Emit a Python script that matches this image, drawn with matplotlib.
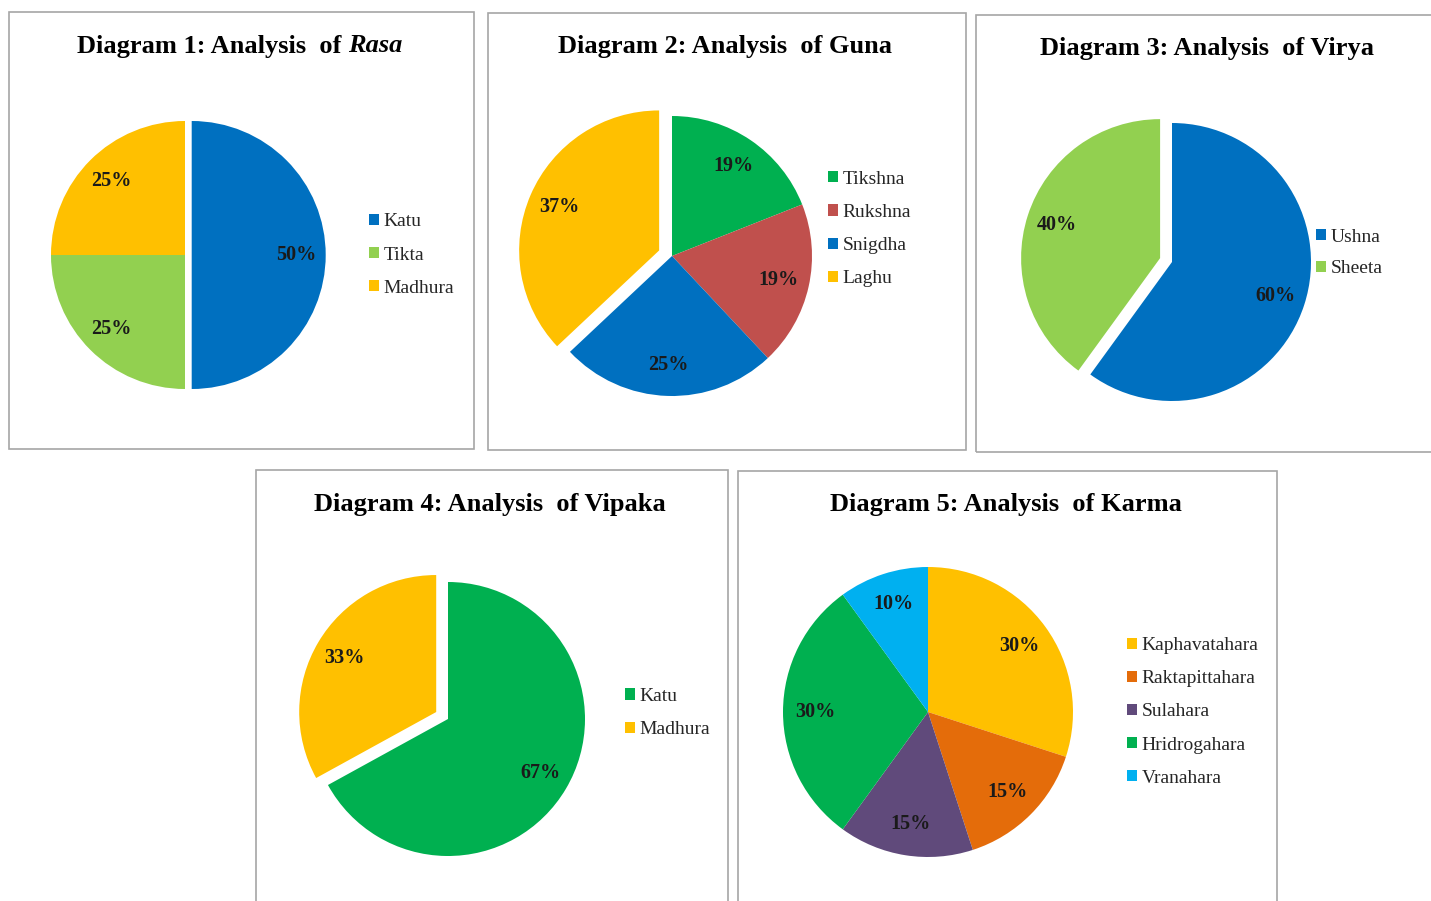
import matplotlib
matplotlib.use("Agg")
import matplotlib.pyplot as plt
from matplotlib.patches import Rectangle

plt.rcParams['font.family'] = ['Liberation Serif', 'DejaVu Serif']

# data
rasa_labels = ["Katu", "Tikta", "Madhura"]
rasa_values = [50, 25, 25]
guna_labels = ["Tikshna", "Rukshna", "Snigdha", "Laghu"]
guna_values = [19, 19, 25, 37]
virya_labels = ["Ushna", "Sheeta"]
virya_values = [60, 40]
vipaka_labels = ["Katu", "Madhura"]
vipaka_values = [67, 33]
karma_labels = ["Kaphavatahara", "Raktapittahara", "Sulahara", "Hridrogahara", "Vranahara"]
karma_values = [30, 15, 15, 30, 10]

BLUE = "#0070C0"
LGREEN = "#92D050"
GREEN = "#00B050"
YELLOW = "#FFC000"
RED = "#C0504D"
ORANGE = "#E46C0A"
PURPLE = "#604A7B"
CYAN = "#00B0F0"

W, H = 1431, 901
fig = plt.figure(figsize=(W / 100, H / 100), dpi=100)
fig.patch.set_facecolor("white")


def frame(x0, y0, x1, y1):
    fig.patches.append(Rectangle((x0 / W, 1 - y1 / H), (x1 - x0) / W, (y1 - y0) / H,
                                 transform=fig.transFigure, fill=False,
                                 edgecolor="#a6a6a6", linewidth=1.2))


def title(cx, cy, text, italic_part=None):
    if italic_part is None:
        fig.text(cx / W, 1 - cy / H, text, ha="center", va="center",
                 fontsize=19, fontweight="bold", color="black")
        return
    r = fig.canvas.get_renderer()
    t1 = fig.text(0, 0, text, fontsize=19, fontweight="bold")
    t2 = fig.text(0, 0, italic_part, fontsize=19, fontweight="bold", style="italic")
    w1 = t1.get_window_extent(r).width
    w2 = t2.get_window_extent(r).width
    x0 = cx - (w1 + w2) / 2
    t1.set_position((x0 / W, 1 - cy / H))
    t1.set_va("center")
    t2.set_position(((x0 + w1) / W, 1 - cy / H))
    t2.set_va("center")


def pie(cx, cy, r, values, labels, colors, explode, leg_x, leg_y, spacing=0.83):
    pad = 1.35
    size = 2 * r * pad
    ax = fig.add_axes([(cx - size / 2) / W, 1 - (cy + size / 2) / H, size / W, size / H])
    wedges, _, autotexts = ax.pie(values, colors=colors, startangle=90, counterclock=False,
                                  explode=explode, autopct=lambda p: f"{p:.0f}%",
                                  pctdistance=0.78,
                                  textprops=dict(fontsize=14.5, fontweight="bold", color="#1a1a1a"),
                                  wedgeprops=dict(linewidth=0))
    ax.set_xlim(-pad, pad)
    ax.set_ylim(-pad, pad)
    ax.set_aspect("equal")
    fig.legend(wedges, labels, loc="center left",
               bbox_to_anchor=(leg_x / W, 1 - leg_y / H), bbox_transform=fig.transFigure,
               frameon=False, fontsize=14, handlelength=0.5, handleheight=0.5,
               handletextpad=0.25, labelspacing=spacing, borderpad=0, borderaxespad=0,
               labelcolor="#262626")
    return ax


frame(9, 12, 474, 449)
frame(488, 13, 966, 450)
frame(976, 15, 1440, 452)
frame(256, 470, 728, 910)
frame(738, 471, 1277, 910)

title(240, 46, "Diagram 1: Analysis  of ", "Rasa")
title(725, 46, "Diagram 2: Analysis  of Guna")
title(1207, 48, "Diagram 3: Analysis  of Virya")
title(490, 504, "Diagram 4: Analysis  of Vipaka")
title(1006, 505, "Diagram 5: Analysis  of Karma")

pie(185, 255, 134, rasa_values, rasa_labels, [BLUE, LGREEN, YELLOW],
    [0.05, 0, 0], 369, 255)
pie(672, 256, 140, guna_values, guna_labels, [GREEN, RED, BLUE, YELLOW],
    [0, 0, 0, 0.1], 828, 229)
pie(1172, 262, 139, virya_values, virya_labels, [BLUE, LGREEN],
    [0, 0.09], 1316, 253, 0.77)
pie(448, 719, 137, vipaka_values, vipaka_labels, [GREEN, YELLOW],
    [0, 0.1], 625, 713)
pie(928, 712, 145, karma_values, karma_labels, [YELLOW, ORANGE, PURPLE, GREEN, CYAN],
    [0, 0, 0, 0, 0], 1127, 712)

fig.savefig("out.png", dpi=100, facecolor="white")
